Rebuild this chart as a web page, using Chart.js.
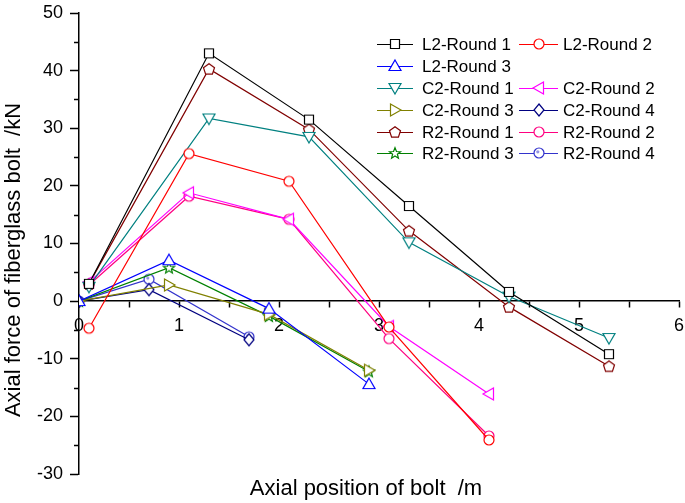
<!DOCTYPE html>
<html>
<head>
<meta charset="utf-8">
<script src="https://cdn.jsdelivr.net/npm/chart.js@4/dist/chart.umd.min.js"></script>
<style>
  html, body { margin: 0; padding: 0; background: #fff; }
  #wrap { width: 685px; height: 503px; position: relative; }
</style>
</head>
<body>
<div id="wrap"><canvas id="chart_canva"></canvas></div>
<script>
// ----- data -----
const seriesNames = [
    'L2-Round 1', 'L2-Round 2', 'L2-Round 3',
    'C2-Round 1', 'C2-Round 2', 'C2-Round 3', 'C2-Round 4',
    'R2-Round 1', 'R2-Round 2', 'R2-Round 3', 'R2-Round 4'
];
const l2r1X = [0.1, 1.3, 2.3, 3.3, 4.3, 5.3];
const l2r1Y = [3.0, 43.0, 31.5, 16.5, 1.6, -9.2];
const l2r2X = [0.1, 1.1, 2.1, 3.1, 4.1];
const l2r2Y = [-4.7, 25.6, 20.8, -4.5, -24.1];
const l2r3X = [0, 0.9, 1.9, 2.9];
const l2r3Y = [0, 7.1, -1.3, -14.4];
const c2r1X = [0.1, 1.3, 2.3, 3.3, 4.3, 5.3];
const c2r1Y = [2.5, 31.7, 28.5, 10.2, 0.8, -6.4];
const c2r2X = [0.1, 1.1, 2.1, 3.1, 4.1];
const c2r2Y = [3.3, 18.8, 14.2, -4.4, -16.1];
const c2r3X = [0, 0.9, 1.9, 2.9];
const c2r3Y = [0, 2.8, -2.3, -12.0];
const c2r4X = [0, 0.7, 1.7];
const c2r4Y = [0, 2.0, -6.7];
const r2r1X = [0.1, 1.3, 2.3, 3.3, 4.3, 5.3];
const r2r1Y = [3.0, 40.3, 29.8, 12.2, -1.0, -11.3];
const r2r2X = [0.1, 1.1, 2.1, 3.1, 4.1];
const r2r2Y = [2.8, 18.2, 14.2, -6.5, -23.4];
const r2r3X = [0, 0.9, 1.9, 2.9];
const r2r3Y = [0, 5.8, -2.6, -12.2];
const r2r4X = [0, 0.7, 1.7];
const r2r4Y = [0, 3.8, -6.2];

const xTicks = [0, 1, 2, 3, 4, 5, 6];
const yTicks = [-30, -20, -10, 0, 10, 20, 30, 40, 50];

const seriesX = [l2r1X, l2r2X, l2r3X, c2r1X, c2r2X, c2r3X, c2r4X, r2r1X, r2r2X, r2r3X, r2r4X];
const seriesY = [l2r1Y, l2r2Y, l2r3Y, c2r1Y, c2r2Y, c2r3Y, c2r4Y, r2r1Y, r2r2Y, r2r3Y, r2r4Y];
const colors = [
    'rgb(0, 0, 0)', 'rgb(255, 0, 0)', 'rgb(0, 0, 255)',
    'rgb(0, 128, 128)', 'rgb(255, 0, 255)', 'rgb(128, 128, 0)', 'rgb(0, 0, 128)',
    'rgb(128, 0, 0)', 'rgb(255, 0, 128)', 'rgb(0, 128, 0)', 'rgb(51, 51, 204)'
];
const shapes = ['square', 'circle', 'triUp', 'triDown', 'triLeft', 'triRight', 'diamond',
    'pentagon', 'circle', 'star', 'dotCircle'];

const FONT = "'Liberation Sans', Arial, sans-serif";

// ----- marker images -----
function makeMarker(shape, color) {
    const c = document.createElement('canvas');
    c.width = 16; c.height = 16;
    const ctx = c.getContext('2d');
    ctx.strokeStyle = color;
    ctx.fillStyle = '#fff';
    ctx.lineWidth = 1.2;
    ctx.beginPath();
    const poly = (pts) => { ctx.moveTo(pts[0][0], pts[0][1]); pts.slice(1).forEach(p => ctx.lineTo(p[0], p[1])); ctx.closePath(); };
    if (shape === 'square') {
        ctx.rect(3.5, 3.5, 9, 9);
    } else if (shape === 'circle' || shape === 'dotCircle') {
        ctx.arc(8, 8, 5, 0, Math.PI * 2);
    } else if (shape === 'triUp') {
        poly([[8, 2], [14, 12.5], [2, 12.5]]);
    } else if (shape === 'triDown') {
        poly([[8, 14], [14, 3.5], [2, 3.5]]);
    } else if (shape === 'triLeft') {
        poly([[2, 8], [12.5, 2], [12.5, 14]]);
    } else if (shape === 'triRight') {
        poly([[14, 8], [3.5, 2], [3.5, 14]]);
    } else if (shape === 'diamond') {
        poly([[8, 2], [13, 8], [8, 14], [3, 8]]);
    } else if (shape === 'pentagon') {
        const pts = [];
        for (let i = 0; i < 5; i++) {
            const a = -Math.PI / 2 + i * 2 * Math.PI / 5;
            pts.push([8 + 5.8 * Math.cos(a), 8.5 + 5.8 * Math.sin(a)]);
        }
        poly(pts);
    } else if (shape === 'star') {
        const pts = [];
        for (let i = 0; i < 10; i++) {
            const a = -Math.PI / 2 + i * Math.PI / 5;
            const r = i % 2 === 0 ? 5.8 : 2.5;
            pts.push([8 + r * Math.cos(a), 8.5 + r * Math.sin(a)]);
        }
        poly(pts);
    }
    ctx.fill();
    ctx.stroke();
    if (shape === 'dotCircle') {
        ctx.beginPath();
        ctx.fillStyle = 'rgba(120, 120, 220, 0.8)';
        ctx.arc(6.8, 6.8, 1.6, 0, Math.PI * 2);
        ctx.fill();
    }
    return c;
}
const markers = shapes.map((s, i) => makeMarker(s, colors[i]));

// ----- legend / titles / minor ticks -----
const legendRows = [
    [0, 1], [2, null], [3, 4], [5, 6], [7, 8], [9, 10]
];
const extrasPlugin = {
    id: 'extras',
    afterDraw(chart) {
        const ctx = chart.ctx;
        const ys = chart.scales.y;
        ctx.save();
        // minor y ticks
        ctx.strokeStyle = '#000';
        ctx.lineWidth = 1.5;
        for (let v = -25; v <= 45; v += 10) {
            const py = Math.round(ys.getPixelForValue(v)) + 0.5;
            ctx.beginPath();
            ctx.moveTo(chart.chartArea.left - 5, py);
            ctx.lineTo(chart.chartArea.left, py);
            ctx.stroke();
        }
        // legend
        const cols = [{ l1: 377, l2: 413, m: 395, t: 422 }, { l1: 519, l2: 558, m: 539, t: 563 }];
        const rowY = [44, 66, 88, 110, 132, 153];
        ctx.font = '17px ' + FONT;
        ctx.textBaseline = 'middle';
        ctx.textAlign = 'left';
        legendRows.forEach((row, r) => {
            row.forEach((idx, c) => {
                if (idx === null) return;
                const col = cols[c];
                const y = rowY[r];
                ctx.strokeStyle = colors[idx];
                ctx.lineWidth = 1.2;
                ctx.beginPath();
                ctx.moveTo(col.l1, y + 0.5);
                ctx.lineTo(col.l2, y + 0.5);
                ctx.stroke();
                ctx.drawImage(markers[idx], col.m - 8, y - 8);
                ctx.fillStyle = '#000';
                ctx.fillText(seriesNames[idx], col.t, y + 1);
            });
        });
        // axis titles
        ctx.font = '22px ' + FONT;
        ctx.fillStyle = '#000';
        ctx.textAlign = 'center';
        ctx.textBaseline = 'middle';
        ctx.fillText('Axial position of bolt  /m', 366, 489);
        ctx.translate(14, 260);
        ctx.rotate(-Math.PI / 2);
        ctx.fillText('Axial force of fiberglass bolt  /kN', 0, 0);
        ctx.restore();
    }
};

const datasets = seriesNames.map((name, i) => ({
    label: name,
    data: seriesX[i].map((x, k) => ({ x: x, y: seriesY[i][k] })),
    borderColor: colors[i],
    backgroundColor: colors[i],
    borderWidth: 1.2,
    pointStyle: markers[i],
    showLine: true,
    fill: false,
    tension: 0
}));

const config = {
    type: 'scatter',
    data: { datasets: datasets },
    options: {
        responsive: true,
        maintainAspectRatio: false,
        animation: false,
        layout: { padding: { left: 0, top: 13, right: 6, bottom: 29 } },
        plugins: {
            legend: { display: false },
            tooltip: { enabled: false }
        },
        scales: {
            x: {
                type: 'linear',
                position: { y: 0 },
                min: 0,
                max: 6,
                afterBuildTicks: (scale) => {
                    const t = [];
                    for (let v = 0; v <= 12; v++) t.push({ value: v / 2 });
                    scale.ticks = t;
                },
                afterFit: (scale) => { scale.paddingLeft = 0; scale.paddingRight = 0; },
                ticks: {
                    autoSkip: false,
                    maxRotation: 0,
                    padding: 8,
                    color: '#000',
                    font: { family: FONT, size: 18 },
                    callback: (v) => xTicks.includes(v) ? String(v) : ''
                },
                grid: { drawOnChartArea: false, color: '#000', tickLength: 6, tickWidth: 1.5 },
                border: { color: '#000', width: 1.5 }
            },
            y: {
                type: 'linear',
                min: -30,
                max: 50,
                afterBuildTicks: (scale) => { scale.ticks = yTicks.map(v => ({ value: v })); },
                afterFit: (scale) => { scale.width = 79; scale.paddingTop = 0; scale.paddingBottom = 0; },
                ticks: {
                    padding: 7,
                    color: '#000',
                    font: { family: FONT, size: 18 }
                },
                grid: { drawOnChartArea: false, color: '#000', tickLength: 9, tickWidth: 1.5 },
                border: { color: '#000', width: 1.5 }
            }
        }
    },
    plugins: [extrasPlugin]
};

var chart = new Chart(document.getElementById('chart_canva'), config);
</script>
</body>
</html>
